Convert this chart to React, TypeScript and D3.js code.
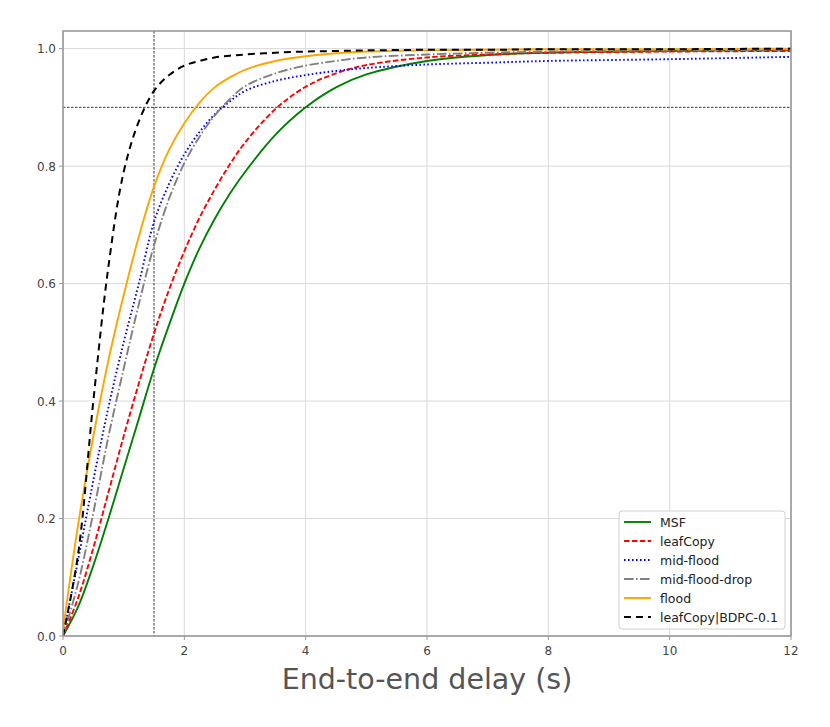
import React from "react";
import * as d3 from "d3";

const xGrid = [0, 0.25, 0.5, 0.75, 1, 1.25, 1.5, 1.75, 2, 2.25, 2.5, 2.75, 3, 3.5, 4, 4.5, 5, 6, 7, 8, 10, 12];

const msf = [0, 0.05, 0.12, 0.2, 0.285, 0.37, 0.455, 0.53, 0.6, 0.66, 0.71, 0.753, 0.79, 0.853, 0.9, 0.934, 0.956, 0.979, 0.989, 0.993, 0.996, 0.997];
const leafCopy = [0, 0.065, 0.15, 0.245, 0.34, 0.43, 0.515, 0.59, 0.655, 0.712, 0.76, 0.803, 0.84, 0.897, 0.935, 0.958, 0.972, 0.985, 0.99, 0.993, 0.995, 0.996];
const midFlood = [0, 0.13, 0.265, 0.39, 0.5, 0.6, 0.705, 0.77, 0.82, 0.858, 0.888, 0.91, 0.928, 0.945, 0.955, 0.962, 0.967, 0.973, 0.976, 0.979, 0.982, 0.986];
const midFloodDrop = [0, 0.09, 0.21, 0.34, 0.455, 0.565, 0.665, 0.745, 0.805, 0.85, 0.886, 0.914, 0.936, 0.958, 0.971, 0.979, 0.985, 0.99, 0.993, 0.995, 0.997, 0.998];
const flood = [0.01, 0.19, 0.34, 0.47, 0.58, 0.68, 0.765, 0.828, 0.873, 0.908, 0.934, 0.951, 0.964, 0.979, 0.987, 0.992, 0.995, 0.997, 0.998, 0.999, 0.999, 1.0];
const bdpc = [0, 0.14, 0.4, 0.63, 0.79, 0.876, 0.928, 0.955, 0.971, 0.979, 0.985, 0.988, 0.99, 0.993, 0.995, 0.996, 0.997, 0.998, 0.998, 0.999, 0.999, 1.0];

const seriesNames = ["MSF", "leafCopy", "mid-flood", "mid-flood-drop", "flood", "leafCopy|BDPC-0.1"];
const seriesValues = [msf, leafCopy, midFlood, midFloodDrop, flood, bdpc];
const seriesColors = ["#008000", "#ff0000", "#0000ff", "#808080", "#ffa500", "#000000"];
const seriesDash = ["", "5.5,2.4", "1.6,2.4", "9.6,2.4,1.6,2.4", "", "7,5"];
const seriesWidth = [1.9, 1.9, 1.9, 1.9, 1.9, 2.0];

const xTicks = [0, 2, 4, 6, 8, 10, 12];
const yTicks = [0, 0.2, 0.4, 0.6, 0.8, 1.0];
const refX = 1.5;
const refY = 0.9;
const xLabel = "End-to-end delay (s)";

export default function App() {
  const W = 830, H = 727;
  const L = 63, R = 791, T = 31, B = 636;
  const x = d3.scaleLinear().domain([0, 12]).range([L, R]);
  const y = d3.scaleLinear().domain([0, 1.03]).range([B, T]);
  const line = d3.line<number>()
    .x((_, i) => x(xGrid[i]))
    .y((d) => y(d))
    .curve(d3.curveCatmullRom.alpha(0.5));
  const font = "DejaVu Sans, sans-serif";
  const tickColor = "#444";
  const legX = 619, legY = 511, legW = 166, legH = 118;
  return (
    <svg width={W} height={H} style={{ position: "absolute", left: 0, top: 0 }} fontFamily={font}>
      <rect x={0} y={0} width={W} height={H} fill="#fff" />
      <defs>
        <clipPath id="plotclip">
          <rect x={L} y={T} width={R - L} height={B - T} />
        </clipPath>
      </defs>
      {xTicks.map((t) => (
        <line key={"gx" + t} x1={x(t)} x2={x(t)} y1={T} y2={B} stroke="#d9d9d9" strokeWidth={1} />
      ))}
      {yTicks.map((t) => (
        <line key={"gy" + t} x1={L} x2={R} y1={y(t)} y2={y(t)} stroke="#d9d9d9" strokeWidth={1} />
      ))}
      <g clipPath="url(#plotclip)">
        <line x1={x(refX)} x2={x(refX)} y1={T} y2={B} stroke="#000" strokeWidth={0.8} strokeDasharray="2.5,1.5" />
        <line x1={L} x2={R} y1={y(refY)} y2={y(refY)} stroke="#000" strokeWidth={0.8} strokeDasharray="2.5,1.5" />
        {seriesValues.map((vals, i) => (
          <path key={seriesNames[i]} d={line(vals) || ""} fill="none" stroke={seriesColors[i]}
            strokeWidth={seriesWidth[i]} strokeDasharray={seriesDash[i] || undefined} />
        ))}
      </g>
      <rect x={L} y={T} width={R - L} height={B - T} fill="none" stroke="#999" strokeWidth={1.6} />
      {xTicks.map((t) => (
        <g key={"xt" + t}>
          <line x1={x(t)} x2={x(t)} y1={B} y2={B + 4} stroke="#999" strokeWidth={1} />
          <text x={x(t)} y={B + 19} textAnchor="middle" fontSize={12} fill={tickColor}>{t}</text>
        </g>
      ))}
      {yTicks.map((t) => (
        <g key={"yt" + t}>
          <line x1={L - 4} x2={L} y1={y(t)} y2={y(t)} stroke="#999" strokeWidth={1} />
          <text x={L - 7} y={y(t) + 4.5} textAnchor="end" fontSize={12} fill={tickColor}>{t.toFixed(1)}</text>
        </g>
      ))}
      <text x={(L + R) / 2} y={689} textAnchor="middle" fontSize={28.5} fill="#555">{xLabel}</text>
      <rect x={legX} y={legY} width={legW} height={legH} rx={3} fill="#fff" fillOpacity={0.85} stroke="#d0d0d0" strokeWidth={1} />
      {seriesNames.map((n, i) => {
        const ry = legY + 11 + i * 19;
        return (
          <g key={"lg" + n}>
            <line x1={legX + 5} x2={legX + 32} y1={ry} y2={ry} stroke={seriesColors[i]}
              strokeWidth={seriesWidth[i]} strokeDasharray={seriesDash[i] || undefined} />
            <text x={legX + 41} y={ry + 4.5} fontSize={12.5} fill="#222">{n}</text>
          </g>
        );
      })}
    </svg>
  );
}
